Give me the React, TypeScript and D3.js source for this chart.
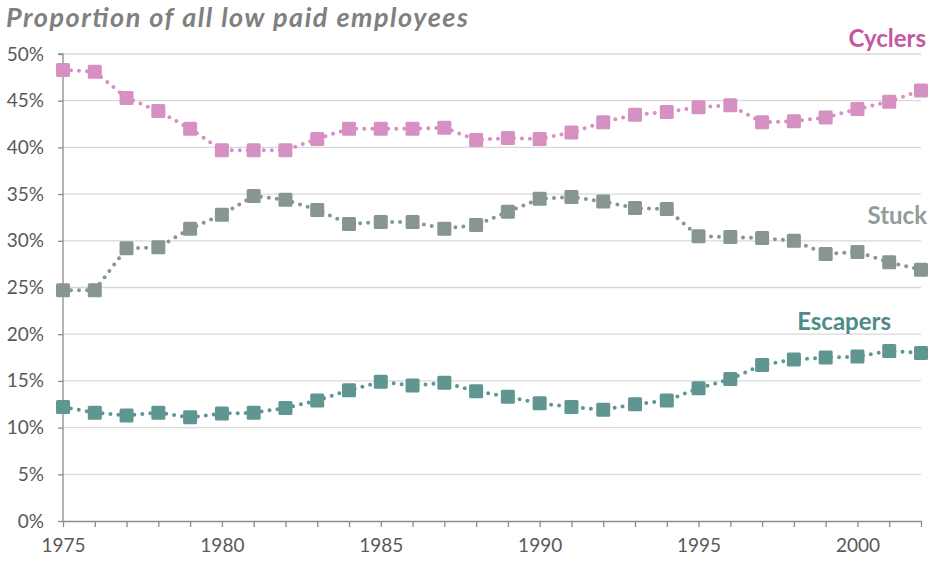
import React, { useEffect, useRef } from "react";
import * as d3 from "d3";

const years = d3.range(1975, 2003);
const yTicks = [0, 5, 10, 15, 20, 25, 30, 35, 40, 45, 50];
const xLabelYears = [1975, 1980, 1985, 1990, 1995, 2000];

const cyclers = [48.3, 48.1, 45.3, 43.9, 42.0, 39.7, 39.7, 39.7, 40.9, 42.0, 42.0, 42.0, 42.1, 40.8, 41.0, 40.9, 41.6, 42.7, 43.5, 43.8, 44.3, 44.5, 42.7, 42.8, 43.2, 44.1, 44.9, 46.1];
const stuck = [24.7, 24.7, 29.2, 29.3, 31.3, 32.8, 34.8, 34.4, 33.3, 31.8, 32.0, 32.0, 31.3, 31.7, 33.1, 34.5, 34.7, 34.2, 33.5, 33.4, 30.5, 30.4, 30.3, 30.0, 28.6, 28.8, 27.7, 26.9];
const escapers = [12.2, 11.6, 11.3, 11.6, 11.1, 11.5, 11.6, 12.1, 12.9, 14.0, 14.9, 14.5, 14.8, 13.9, 13.3, 12.6, 12.2, 11.9, 12.5, 12.9, 14.2, 15.2, 16.7, 17.3, 17.5, 17.6, 18.2, 18.0];

const seriesNames = ["Cyclers", "Stuck", "Escapers"];
const seriesColors = ["#d690c2", "#879690", "#5f9692"];
const labelColors = ["#c4589f", "#8e9d97", "#4f8b87"];

const App = () => {
  const ref = useRef<SVGSVGElement>(null);

  useEffect(() => {
    const width = 932;
    const height = 563;
    const margin = { top: 54, right: 11, bottom: 42, left: 63 };
    const font = "Lato, 'Open Sans', sans-serif";

    const svg = d3.select(ref.current).attr("width", width).attr("height", height);
    svg.selectAll("*").remove();

    const x = d3.scaleLinear().domain([1975, 2002]).range([margin.left, width - margin.right]);
    const y = d3.scaleLinear().domain([0, 50]).range([height - margin.bottom, margin.top]);

    // title
    svg.append("text")
      .attr("x", 6)
      .attr("y", 27)
      .attr("font-family", font)
      .attr("font-size", 27)
      .attr("font-style", "italic")
      .attr("font-weight", "bold")
      .attr("fill", "#808080")
      .attr("textLength", 462)
      .attr("lengthAdjust", "spacing")
      .text("Proportion of all low paid employees");

    // gridlines
    svg.append("g")
      .selectAll("line")
      .data(yTicks.filter((t) => t > 0))
      .join("line")
      .attr("x1", margin.left)
      .attr("x2", width - margin.right)
      .attr("y1", (d) => y(d))
      .attr("y2", (d) => y(d))
      .attr("stroke", "#d9d9d9")
      .attr("stroke-width", 1.3);

    // y axis
    const yAxis = d3.axisLeft(y).tickValues(yTicks).tickSize(5).tickPadding(14).tickFormat((d) => `${d}%`);
    svg.append("g")
      .attr("transform", `translate(${margin.left},0)`)
      .call(yAxis)
      .call((g) => g.selectAll("line, path").attr("stroke", "#8c8c8c").attr("stroke-width", 1.3))
      .call((g) => g.select(".domain").attr("d", `M-5,${y(50)}H0V${y(0)}`))
      .call((g) => g.selectAll("text").attr("font-family", font).attr("font-size", 19).attr("fill", "#595959"));

    // x axis
    const xAxis = d3.axisBottom(x).tickValues(years).tickSize(6).tickSizeOuter(0).tickPadding(12)
      .tickFormat((d) => (xLabelYears.includes(d as number) ? `${d}` : ""));
    svg.append("g")
      .attr("transform", `translate(0,${y(0)})`)
      .call(xAxis)
      .call((g) => g.selectAll("line, path").attr("stroke", "#8c8c8c").attr("stroke-width", 1.3))
      .call((g) => g.selectAll("text").attr("font-family", font).attr("font-size", 19).attr("fill", "#595959"));

    const allSeries = [cyclers, stuck, escapers];
    const line = d3.line<number>().x((_, i) => x(years[i])).y((d) => y(d));
    const size = 14;

    allSeries.forEach((vals, s) => {
      svg.append("path")
        .datum(vals)
        .attr("d", line)
        .attr("fill", "none")
        .attr("stroke", seriesColors[s])
        .attr("stroke-width", 4)
        .attr("stroke-linecap", "round")
        .attr("stroke-dasharray", "0 8");

      svg.append("g")
        .selectAll("rect")
        .data(vals)
        .join("rect")
        .attr("x", (_, i) => x(years[i]) - size / 2)
        .attr("y", (d) => y(d) - size / 2)
        .attr("width", size)
        .attr("height", size)
        .attr("rx", 1.5)
        .attr("fill", seriesColors[s]);
    });

    // series labels
    const labelPos = [
      { x: 926, y: 47 },
      { x: 927, y: 224 },
      { x: 891, y: 330 },
    ];
    seriesNames.forEach((name, s) => {
      svg.append("text")
        .attr("x", labelPos[s].x)
        .attr("y", labelPos[s].y)
        .attr("text-anchor", "end")
        .attr("font-family", font)
        .attr("font-size", 24)
        .attr("font-weight", "bold")
        .attr("fill", labelColors[s])
        .text(name);
    });
  }, []);

  return (
    <div style={{ position: "absolute", left: 0, top: 0 }}>
      <svg ref={ref}></svg>
    </div>
  );
};

export default App;
